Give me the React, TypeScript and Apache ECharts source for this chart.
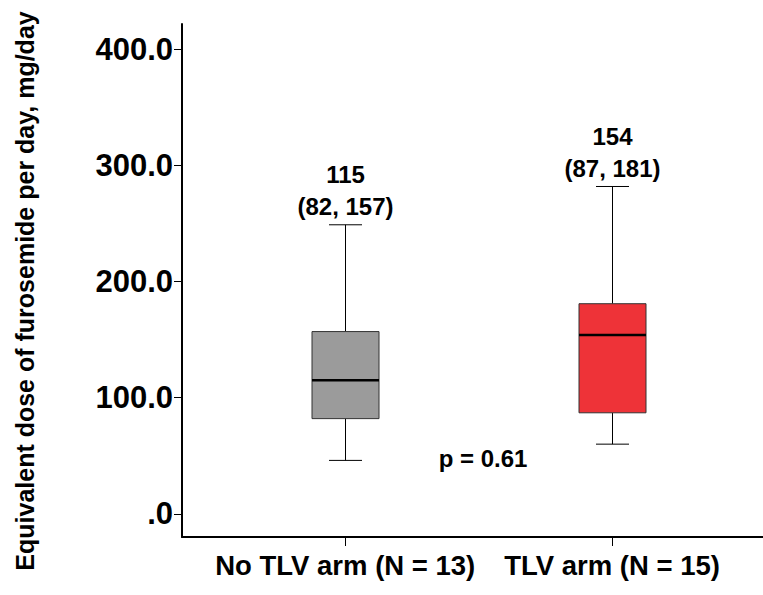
import React, { useEffect, useRef } from 'react';
import * as echarts from 'echarts';

const categories = ['No TLV arm (N = 13)', 'TLV arm (N = 15)'];
const groupPositions = [1, 2];
const whiskerLow = [46, 60];
const quartile1 = [82, 87];
const medians = [115, 154];
const quartile3 = [157, 181];
const whiskerHigh = [249, 282];
const boxColors = ['#9b9b9b', '#ee3338'];
const yTicks = [0, 100, 200, 300, 400];
const yTitle = 'Equivalent dose of furosemide per day, mg/day';
const pValueText = 'p = 0.61';

const FONT = '"Liberation Sans", Arial, Helvetica, sans-serif';

export default function App() {
  const ref = useRef<HTMLDivElement>(null);
  useEffect(() => {
    const chart = echarts.init(ref.current!, null, { renderer: 'svg' });
    const data = groupPositions.map((x, i) => [
      x,
      whiskerLow[i],
      quartile1[i],
      medians[i],
      quartile3[i],
      whiskerHigh[i],
    ]);
    chart.setOption({
      animation: false,
      grid: { left: 182, right: 0, top: 24, bottom: 58 },
      xAxis: {
        type: 'value',
        min: 0.388,
        max: 2.566,
        splitLine: { show: false },
        axisLine: { show: true, onZero: false, lineStyle: { color: '#000', width: 2 } },
        axisTick: {
          show: true,
          customValues: groupPositions,
          length: 9,
          lineStyle: { color: '#000', width: 1 },
        },
        axisLabel: {
          customValues: groupPositions,
          formatter: (v: number) => categories[groupPositions.indexOf(v)] ?? '',
          fontSize: 27.5,
          fontWeight: 'bold',
          color: '#000',
          fontFamily: FONT,
          margin: 14,
        },
      },
      yAxis: {
        type: 'value',
        min: -20,
        max: 422,
        splitLine: { show: false },
        axisLine: { show: true, onZero: false, lineStyle: { color: '#000', width: 2 } },
        axisTick: {
          show: true,
          customValues: yTicks,
          length: 8,
          lineStyle: { color: '#000', width: 1 },
        },
        axisLabel: {
          customValues: yTicks,
          formatter: (v: number) => (v === 0 ? '.0' : v.toFixed(1)),
          fontSize: 31,
          fontWeight: 'bold',
          color: '#000',
          fontFamily: FONT,
          margin: 9,
        },
      },
      graphic: [
        {
          type: 'text',
          x: 25,
          y: 291,
          rotation: Math.PI / 2,
          style: {
            text: yTitle,
            fontSize: 25,
            fontWeight: 'bold',
            fontFamily: FONT,
            fill: '#000',
            align: 'center',
            verticalAlign: 'middle',
          },
        },
        {
          type: 'text',
          x: 483,
          y: 458,
          style: {
            text: pValueText,
            fontSize: 24,
            fontWeight: 'bold',
            fontFamily: FONT,
            fill: '#000',
            align: 'center',
            verticalAlign: 'middle',
          },
        },
      ],
      series: [
        {
          type: 'custom',
          data,
          renderItem: (params: any, api: any) => {
            const x = api.value(0);
            const i = params.dataIndex;
            const pLow = api.coord([x, api.value(1)]);
            const pQ1 = api.coord([x, api.value(2)]);
            const pMed = api.coord([x, api.value(3)]);
            const pQ3 = api.coord([x, api.value(4)]);
            const pHigh = api.coord([x, api.value(5)]);
            const cx = Math.round(pMed[0]) + 0.5;
            const hw = 33.5;
            const cw = 16.5;
            const lineStyle = { stroke: '#000', lineWidth: 1 };
            const textStyle = {
              fontSize: 24,
              fontWeight: 'bold',
              fontFamily: FONT,
              fill: '#000',
              align: 'center',
              verticalAlign: 'middle',
            };
            return {
              type: 'group',
              children: [
                { type: 'line', shape: { x1: cx, y1: pHigh[1], x2: cx, y2: pQ3[1] }, style: lineStyle },
                { type: 'line', shape: { x1: cx, y1: pLow[1], x2: cx, y2: pQ1[1] }, style: lineStyle },
                { type: 'line', shape: { x1: cx - cw, y1: pHigh[1], x2: cx + cw, y2: pHigh[1] }, style: lineStyle },
                { type: 'line', shape: { x1: cx - cw, y1: pLow[1], x2: cx + cw, y2: pLow[1] }, style: lineStyle },
                {
                  type: 'rect',
                  shape: { x: cx - hw, y: pQ3[1], width: hw * 2, height: pQ1[1] - pQ3[1] },
                  style: { fill: boxColors[i], stroke: '#333', lineWidth: 1 },
                },
                {
                  type: 'line',
                  shape: { x1: cx - hw, y1: pMed[1], x2: cx + hw, y2: pMed[1] },
                  style: { stroke: '#000', lineWidth: 2.5 },
                },
                {
                  type: 'text',
                  x: cx,
                  y: pHigh[1] - 50,
                  style: { ...textStyle, text: String(medians[i]) },
                },
                {
                  type: 'text',
                  x: cx,
                  y: pHigh[1] - 18,
                  style: { ...textStyle, text: `(${quartile1[i]}, ${quartile3[i]})` },
                },
              ],
            };
          },
        },
      ],
    });
    return () => chart.dispose();
  }, []);
  return (
    <div
      ref={ref}
      style={{ position: 'fixed', left: 0, top: 0, width: 763, height: 595, background: '#fff' }}
    />
  );
}
